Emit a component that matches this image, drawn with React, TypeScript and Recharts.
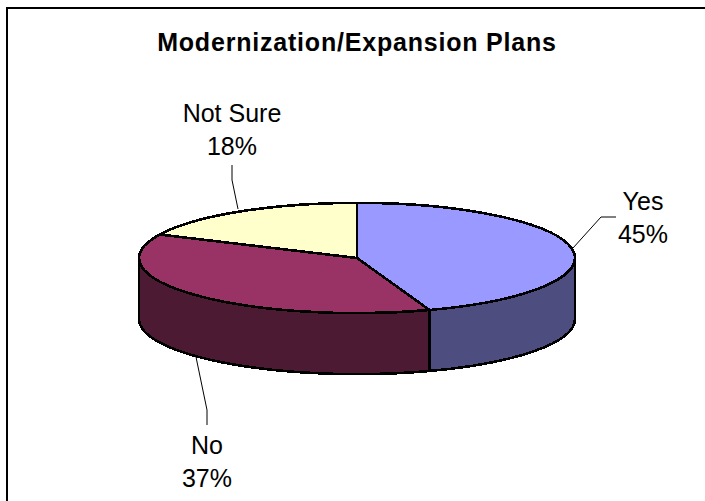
import * as React from 'react';
import { Pie, PieChart } from 'recharts';

const labels = ['Yes', 'No', 'Not Sure'];
const shares = [44.6, 37.4, 18];
const topColors = ['#9999ff', '#993366', '#ffffcc'];
const wallColors = ['#4d4d80', '#4d1a33', '#808066'];

const data = labels.map((name, i) => ({ name, value: shares[i], fill: topColors[i], wall: wallColors[i] }));

const FONT = '"Liberation Sans", Arial, sans-serif';
const TILT = 0.253; // ry / rx of the top face
const DEPTH = 61;

// label anchor + leader line for each slice
const labelPos: Record<string, { x: number; y: number; line: number[][] }> = {
  Yes: { x: 643, y: 210, line: [[573, 248], [601, 217], [616, 217]] },
  No: { x: 207, y: 454, line: [[196, 357], [207, 410], [207, 425]] },
  'Not Sure': { x: 232, y: 122, line: [[238, 209], [232, 180], [232, 165]] },
};

const rad = Math.PI / 180;

function Slice3D(props: any) {
  const { cx, cy, outerRadius: r, startAngle, endAngle, fill, wall } = props;
  const ry = r * TILT;
  const px = (a: number) => cx + r * Math.cos(a * rad);
  const py = (a: number) => cy - ry * Math.sin(a * rad);
  const sweep = Math.abs(startAngle - endAngle);
  const top = `M${cx},${cy} L${px(startAngle)},${py(startAngle)} A${r},${ry} 0 ${sweep > 180 ? 1 : 0} 1 ${px(endAngle)},${py(endAngle)} Z`;

  // only the front half of the rim shows a wall (angles 0 .. -180)
  const a0 = Math.min(startAngle, 0);
  const a1 = Math.max(endAngle, -180);
  let side = null;
  if (a0 > a1) {
    const d = `M${px(a0)},${py(a0)} A${r},${ry} 0 0 1 ${px(a1)},${py(a1)} L${px(a1)},${py(a1) + DEPTH} A${r},${ry} 0 0 0 ${px(a0)},${py(a0) + DEPTH} Z`;
    side = <path d={d} fill={wall} stroke='#000' strokeWidth={2.6} strokeLinejoin='round' shapeRendering='crispEdges' />;
  }
  return (
    <g>
      {side}
      <path d={top} fill={fill} stroke='#000' strokeWidth={2.6} strokeLinejoin='round' shapeRendering='crispEdges' />
    </g>
  );
}

function SliceLabel(props: any) {
  const pos = labelPos[props.name];
  return (
    <text x={pos.x} y={pos.y} textAnchor='middle' fontFamily={FONT} fontSize={25} fill='#000'>
      <tspan x={pos.x}>{props.name}</tspan>
      <tspan x={pos.x} dy={32.5}>{Math.round(props.percent * 100)}%</tspan>
    </text>
  );
}

function LeaderLine(props: any) {
  const pos = labelPos[props.name];
  return <polyline points={pos.line.map((p) => p.join(',')).join(' ')} fill='none' stroke='#000' strokeWidth={1} />;
}

export default function App() {
  return (
    <div style={{ position: 'absolute', left: 0, top: 0, width: 705, height: 501, background: '#fff', overflow: 'hidden' }}>
      <div style={{ position: 'absolute', left: 6, top: 7, width: 705, height: 501, borderLeft: '2px solid #000', borderTop: '2px solid #000' }} />
      <div style={{ position: 'absolute', left: 0, top: 0 }}>
        <PieChart width={705} height={501} margin={{ top: 0, right: 0, bottom: 0, left: 0 }}>
          <text x={357} y={51} textAnchor='middle' fontFamily={FONT} fontSize={25} fontWeight='bold' letterSpacing={0.8} fill='#000'>
            Modernization/Expansion Plans
          </text>
          <Pie
            data={data}
            dataKey='value'
            nameKey='name'
            cx={357}
            cy={258}
            innerRadius={0}
            outerRadius={218}
            startAngle={90}
            endAngle={-270}
            paddingAngle={0}
            shape={Slice3D}
            label={SliceLabel}
            labelLine={LeaderLine}
            isAnimationActive={false}
          />
        </PieChart>
      </div>
    </div>
  );
}
